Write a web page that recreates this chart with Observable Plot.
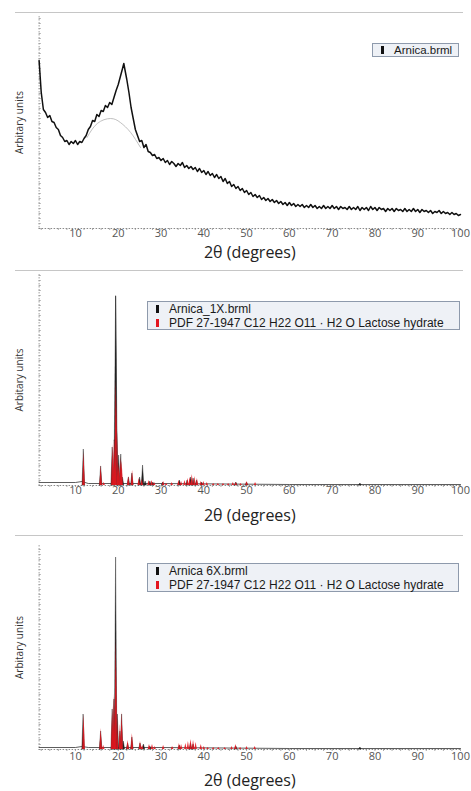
<!DOCTYPE html>
<html><head><meta charset="utf-8">
<script src="https://cdn.jsdelivr.net/npm/d3@7"></script>
<script src="https://cdn.jsdelivr.net/npm/@observablehq/plot@0.6"></script>
<style>
body{margin:0;background:#fff;}
#wrap{position:relative;width:471px;height:791px;overflow:hidden;background:#fff;}
.panel{position:absolute;left:0;}
.sep{position:absolute;left:15px;width:448px;height:0;border-top:1.5px solid #c6c6c6;}
.legend{position:absolute;background:#eef1f6;border:1px solid #8e9aac;font-family:"Liberation Sans",Arial,sans-serif;font-size:12px;color:#1a1a1a;line-height:14px;box-sizing:border-box;padding-left:21px;}
.legend .row{position:relative;white-space:nowrap;}
.legend .mk{position:absolute;left:-13px;top:3px;width:3px;height:8px;}
</style></head><body><div id="wrap"></div><script>
// ---------- labels ----------
const xTicks = [10, 20, 30, 40, 50, 60, 70, 80, 90, 100];
const xLabel = "2θ (degrees)";
const yLabel = "Arbitary units";
const legend1 = ["Arnica.brml"];
const legend2 = ["Arnica_1X.brml", "PDF 27-1947 C12 H22 O11 · H2 O Lactose hydrate"];
const legend3 = ["Arnica 6X.brml", "PDF 27-1947 C12 H22 O11 · H2 O Lactose hydrate"];

// ---------- panel 1 : amorphous scan ----------
const scanTheta = [1.5,2.0,2.5,3.0,3.5,4.0,4.5,5.0,5.5,6.0,6.5,7.0,7.5,8.0,8.5,9.0,9.5,10.0,10.5,11.0,11.5,12.0,12.5,13.0,13.5,14.0,14.5,15.0,15.5,16.0,16.5,17.0,17.5,18.0,18.5,19.0,19.5,20.0,20.5,21.0,21.3,21.6,22.0,22.5,23.0,23.5,24.0,24.5,25.0,25.5,26.0,26.5,27.0,27.5,28.0,28.5,29.0,29.5,
  30.0,30.5,31,31.5,32,32.5,33,33.5,34,34.5,35,35.5,36,36.5,37,37.5,38,38.5,39,39.5,40,40.5,41,41.5,42,42.5,43,43.5,44,44.5,45,45.5,46,46.5,47,47.5,48,48.5,49,49.5,50,50.5,51,51.5,52,52.5,53,53.5,54,54.5,55,55.5,56,56.5,57,57.5,58,58.5,59,59.5,60,60.5,61,61.5,62,62.5,63,63.5,64,64.5,65,65.5,66,66.5,67,67.5,68,68.5,69,69.5,70,70.5,71,71.5,72,72.5,73,73.5,74,74.5,75,75.5,76,76.5,77,77.5,78,78.5,79,79.5,80,80.5,81,81.5,82,82.5,83,83.5,84,84.5,85,85.5,86,86.5,87,87.5,88,88.5,89,89.5,90,90.5,91,91.5,92,92.5,93,93.5,94,94.5,95,95.5,96,96.5,97,97.5,98,98.5,99,99.5,100];
const scanCounts = [168,136,119,116,111,113,107,106,101,99,93,91,87,88,84,87,85,88,84,87,86,90,93,99,102,108,107,114,112,118,117,123,121,126,124,131,138,144,152,160,165,158,149,136,121,110,99,93,87,88,81,84,77,76,73,74,70,71,
  68,70,66,68,64,67,65,62,65,63,66,61,63,60,62,59,61,57,60,56,58,54,57,53,55,51,54,50,52,47,50,45,47,42,44,40,42,38,40,36,38,34,36,32,34,31,33,29,31,28,30,27,29,26,28,25,27,24,26,23,26,23,25,22,24,22,24,21,23,21,24,21,23,20,22,20,23,20,22,20,23,20,22,19,22,20,21,19,22,19,21,19,22,18,21,19,21,18,22,19,21,18,21,19,20,17,20,18,20,17,20,18,19,17,20,17,19,17,20,17,19,16,19,17,18,16,18,15,17,16,18,15,17,15,16,14,16,14,15,13,14];
const amorphTheta = [12.7, 15.1, 18.2, 20.5, 22.9, 25.2];
const amorphCounts = [91, 105, 110, 106, 96, 81];

// ---------- panel 2 : Arnica 1X ----------
const base2Theta = [1.5, 10, 11.5, 13, 30, 60, 100];
const base2Counts = [3, 3, 4, 2, 2, 1, 1];
const peaks2Black = [[11.95,36],[16.0,19],[18.7,38],[19.2,45],[19.5,189],[19.8,60],[20.2,30],[20.7,31],[21.1,8],[22.5,8],[23.3,12],[25.1,8],[25.8,20],[26.4,4],[27.5,4],[28.2,3],[30.5,3],[34.4,5],[36.2,5],[37.0,8],[37.6,7],[38.4,5],[39.6,3],[47.6,3],[50.1,3],[76.6,2]];
const peaks2Red = [[12.0,33],[16.0,20],[16.7,3],[18.75,41],[19.15,50],[19.5,104],[19.8,58],[20.2,22],[20.6,28],[20.9,25],[22.45,9],[23.35,15],[24.9,7],[25.6,6],[27.2,5],[27.9,5],[28.5,3],[30.6,4],[31.3,2],[32.6,3],[34.2,5],[34.8,4],[35.6,5],[36.3,7],[36.8,8],[37.3,11],[37.9,9],[38.5,7],[39.4,4],[40.0,4],[40.8,3],[42.3,2],[43.4,2],[44.6,2],[45.8,2],[46.9,3],[47.6,3],[48.7,2],[50.1,4],[52.1,3]];

// ---------- panel 3 : Arnica 6X ----------
const base3Theta = [1.5, 10, 11.5, 13, 30, 60, 100];
const base3Counts = [2, 2, 3, 2, 2, 1, 1];
const peaks3Black = [[11.9,35],[16.0,18],[18.7,40],[19.1,50],[19.5,192],[19.9,35],[20.5,18],[20.9,35],[21.3,8],[22.3,6],[23.3,12],[25.2,6],[26.0,5],[27.5,3],[34.4,4],[37.0,6],[37.6,5],[47.6,3],[76.6,2]];
const peaks3Red = [[12.0,35],[16.0,21],[16.6,4],[18.7,43],[19.1,55],[19.5,110],[19.8,40],[20.5,25],[20.9,37],[22.3,9],[23.3,16],[25.2,8],[25.7,4],[27.3,5],[28.0,5],[28.6,3],[30.6,4],[32.7,3],[34.3,6],[34.8,5],[35.8,6],[36.4,8],[37.0,10],[37.6,9],[38.2,7],[39.4,5],[40.1,3],[41.0,2],[42.3,2],[43.5,2],[45.0,2],[46.6,3],[47.5,5],[48.6,2],[50.1,3],[52.0,3]];

// ---------- helpers ----------
const pairs = (xs, ys) => xs.map((x, i) => ({x, y: ys[i]}));
const peakShapes = (peaks, hw) => peaks.flatMap(([x, h], i) => [{x: x - hw, y: 0, i}, {x, y: h, i}, {x: x + hw, y: 0, i}]);

function panel({top, height, mt, mb, pad, titleDy, marks}) {
  const H = height - mt - mb;
  const chart = Plot.plot({
    width: 471, height, marginLeft: 38.6, marginRight: 11, marginTop: mt, marginBottom: mb,
    style: {fontFamily: "'Open Sans', sans-serif", overflow: "visible", background: "transparent"},
    x: {domain: [1.5, 100], axis: null},
    y: {domain: [0, H], axis: null},
    marks: [
      // minor tick marks along the dotted axes (y units are pixels, x: 1° ≈ 4.28 px)
      Plot.ruleY(d3.ticks(0, H, 40), {x1: 1.5, x2: 2.0, stroke: "#aaa"}),
      Plot.ruleX(d3.ticks(2, 100, 50), {y1: 0, y2: -2, stroke: "#aaa"}),
      Plot.ruleY([0], {stroke: "#8a8a8a", strokeDasharray: "1.5,1.5"}),
      Plot.ruleX([1.5], {stroke: "#a0a0a0", strokeDasharray: "1.5,1.5"}),
      Plot.axisX(xTicks, {tickSize: 0, tickPadding: pad, fontSize: 11, fill: "#555", label: null}),
      ...marks,
      Plot.text([xLabel], {text: d => d, frameAnchor: "bottom", dy: titleDy, fontSize: 16, fill: "#222"}),
      Plot.text([yLabel], {text: d => d, frameAnchor: "left", textAnchor: "middle", rotate: -90, dx: -19, fontSize: 10, fill: "#333"})
    ]
  });
  chart.classList.add("panel");
  chart.style.top = top + "px";
  return chart;
}

const wrap = document.getElementById("wrap");

wrap.appendChild(panel({top: 0, height: 262, mt: 16, mb: 34, pad: 1, titleDy: 29, marks: [
  Plot.line(pairs(amorphTheta, amorphCounts), {x: "x", y: "y", stroke: "#b0b0b0", strokeWidth: 0.8, curve: "natural"}),
  Plot.line(pairs(scanTheta, scanCounts), {x: "x", y: "y", stroke: "#111", strokeWidth: 1.5})
]}));

wrap.appendChild(panel({top: 262, height: 264, mt: 12, mb: 41, pad: 1, titleDy: 35, marks: [
  Plot.line(pairs(base2Theta, base2Counts), {x: "x", y: "y", stroke: "#333", strokeWidth: 0.8}),
  Plot.areaY(peakShapes(peaks2Black, 0.3), {x: "x", y: "y", z: "i", fill: "#222", stroke: "#222", strokeWidth: 0.4}),
  Plot.areaY(peakShapes(peaks2Red, 0.3), {x: "x", y: "y", z: "i", fill: "#e3161f", fillOpacity: 0.9})
]}));

wrap.appendChild(panel({top: 526, height: 265, mt: 19, mb: 42, pad: 3, titleDy: 36, marks: [
  Plot.line(pairs(base3Theta, base3Counts), {x: "x", y: "y", stroke: "#333", strokeWidth: 0.8}),
  Plot.areaY(peakShapes(peaks3Black, 0.3), {x: "x", y: "y", z: "i", fill: "#222", stroke: "#222", strokeWidth: 0.4}),
  Plot.areaY(peakShapes(peaks3Red, 0.3), {x: "x", y: "y", z: "i", fill: "#e3161f", fillOpacity: 0.9})
]}));

// separators
[12, 270, 535].forEach(y => {
  const d = document.createElement("div");
  d.className = "sep"; d.style.top = y + "px";
  wrap.appendChild(d);
});

// legends
function legend(rows, colors, box) {
  const d = document.createElement("div");
  d.className = "legend";
  Object.assign(d.style, {left: box[0] + "px", top: box[1] + "px", width: box[2] + "px", height: box[3] + "px", fontSize: box[4] + "px", lineHeight: box[5] + "px"});
  rows.forEach((t, i) => {
    const r = document.createElement("div");
    r.className = "row";
    const m = document.createElement("span");
    m.className = "mk"; m.style.background = colors[i];
    m.style.top = ((box[5] - 8) / 2) + "px";
    r.appendChild(m);
    r.appendChild(document.createTextNode(t));
    d.appendChild(r);
  });
  wrap.appendChild(d);
}
legend(legend1, ["#111"], [372, 43, 87, 14, 11.5, 12]);
legend(legend2, ["#111", "#e3161f"], [147, 301, 313, 29, 12, 14]);
legend(legend3, ["#111", "#e3161f"], [147, 563, 312, 29, 12, 14]);
</script></body></html>
